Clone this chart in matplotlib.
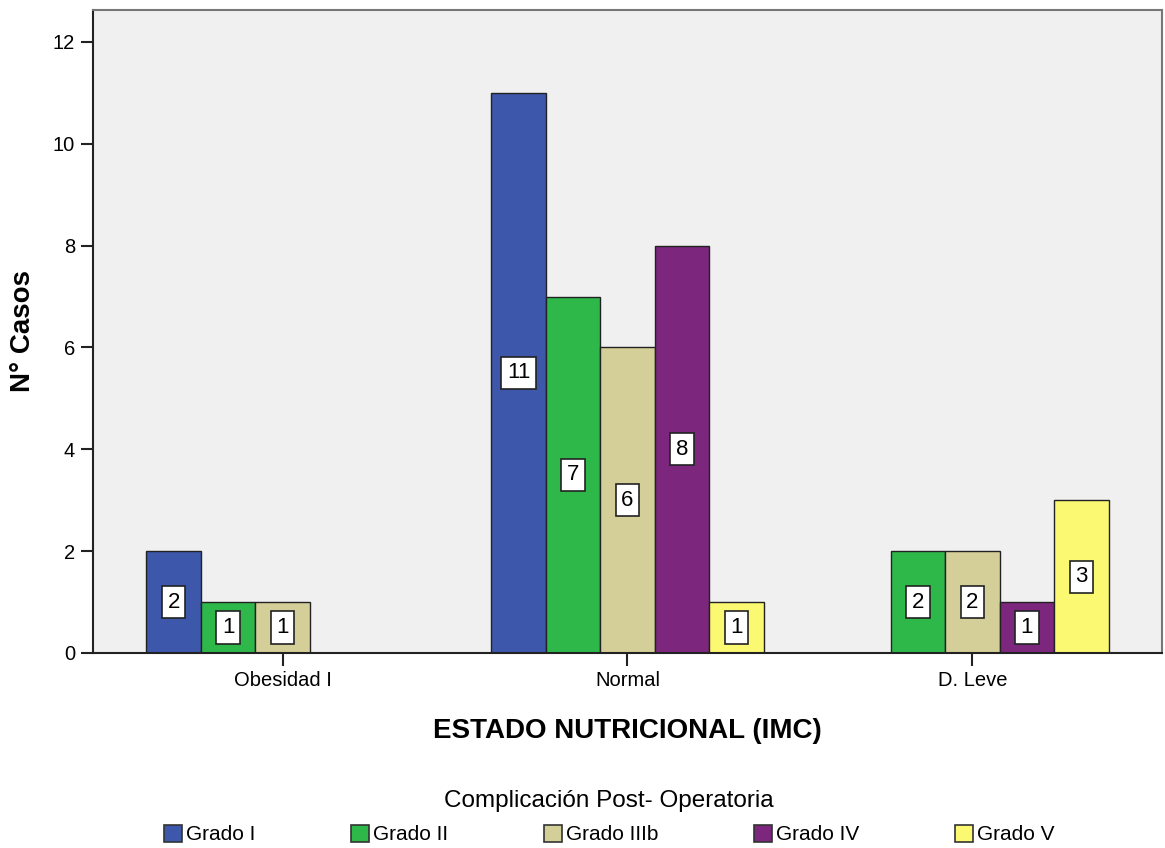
import numpy as np
import matplotlib
matplotlib.use("Agg")
import matplotlib.pyplot as plt
from matplotlib.patches import Patch

plt.rcParams["font.family"] = ["Liberation Sans", "DejaVu Sans"]

# data
categories = ["Obesidad I", "Normal", "D. Leve"]
series_names = ["Grado I", "Grado II", "Grado IIIb", "Grado IV", "Grado V"]
grado_i = [2, 11, None]
grado_ii = [1, 7, 2]
grado_iiib = [1, 6, 2]
grado_iv = [None, 8, 1]
grado_v = [None, 1, 3]
colors = ["#3d57ab", "#2eb84a", "#d4cf98", "#7c277d", "#fbf872"]

series = [grado_i, grado_ii, grado_iiib, grado_iv, grado_v]

fig = plt.figure(figsize=(11.65, 8.48), dpi=100)
ax = fig.add_axes([0.0798, 0.2300, 0.9176, 0.7583])
ax.set_facecolor("#f0f0f0")

x = np.arange(len(categories))
width = 0.158
for i, (vals, name, color) in enumerate(zip(series, series_names, colors)):
    heights = np.array([np.nan if v is None else v for v in vals], dtype=float)
    xs = x + (i - 2) * width
    ax.bar(xs, heights, width, color=color, edgecolor="#222222",
           linewidth=1.0, label=name, zorder=2)
    for xi, h in zip(xs, heights):
        if np.isnan(h):
            continue
        ax.text(xi, h / 2, f"{int(h)}", ha="center", va="center",
                fontsize=16, zorder=3,
                bbox=dict(boxstyle="square,pad=0.25", facecolor="white",
                          edgecolor="#222222", linewidth=1.2))

ax.set_xlim(-0.55, 2.55)
ax.set_ylim(0, 12.63)
ax.set_xticks(x)
ax.set_xticklabels(categories, fontsize=14.5)
ax.set_yticks(range(0, 13, 2))
ax.set_yticklabels([str(v) for v in range(0, 13, 2)], fontsize=14.5)
ax.tick_params(axis="both", direction="out", length=9, width=1.5,
               color="#222222", pad=4)

for side in ("left", "bottom"):
    ax.spines[side].set_color("#222222")
    ax.spines[side].set_linewidth(1.5)
for side in ("top", "right"):
    ax.spines[side].set_color("#777777")
    ax.spines[side].set_linewidth(1.5)

ax.set_xlabel("ESTADO NUTRICIONAL (IMC)", fontsize=20, fontweight="bold",
              labelpad=20)
ax.set_ylabel("N° Casos", fontsize=20, fontweight="bold", labelpad=12)

handles = [Patch(facecolor=c, edgecolor="#333333", linewidth=1.2) for c in colors]
fig.legend(handles, series_names, loc="lower center",
           bbox_to_anchor=(0.523, -0.013), ncol=5, frameon=False,
           fontsize=15, title="Complicación Post- Operatoria",
           title_fontsize=17.5, handlelength=0.85, handleheight=0.85,
           handletextpad=0.2, columnspacing=4.6, borderpad=0.2,
           labelspacing=0.6)

fig.savefig("out.png", dpi=100)
